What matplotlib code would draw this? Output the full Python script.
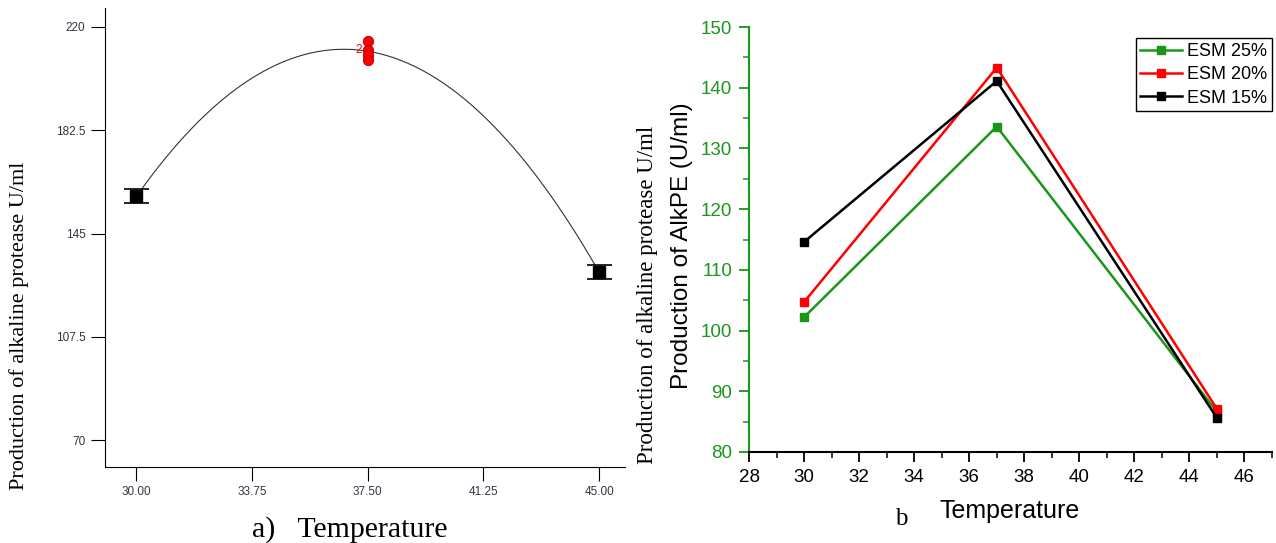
import matplotlib
matplotlib.use("Agg")
import matplotlib.pyplot as plt
import numpy as np
from matplotlib.ticker import MultipleLocator

# panel a: response surface model (design points)
temp_design = [30.0, 37.5, 45.0]
mean_design = [158.5, 211.2, 131.0]
err_design = [2.5, 2.5]
center_x = [37.5, 37.5, 37.5, 37.5]
center_y = [215.0, 211.6, 210.0, 208.0]
a_xticks = [30.00, 33.75, 37.50, 41.25, 45.00]
a_yticks = [70, 107.5, 145, 182.5, 220]

# panel b: AlkPE production for each ESM level
temp_b = [30, 37, 45]
esm25 = [102.2, 133.6, 86.6]
esm20 = [104.7, 143.3, 87.1]
esm15 = [114.6, 141.1, 85.6]

W, H = 1276, 543
fig = plt.figure(figsize=(W / 100, H / 100), dpi=100)
serif = ["Liberation Serif", "DejaVu Serif"]
narrow = ["Liberation Sans Narrow", "Liberation Sans", "DejaVu Sans"]
arial = ["Liberation Sans", "DejaVu Sans"]

# ---- panel a ----
ax1 = fig.add_axes([105 / W, 1 - 467 / H, 520 / W, 459 / H])
coef = np.polyfit(temp_design, mean_design, 2)
xs = np.linspace(30, 45, 200)
ax1.plot(xs, np.polyval(coef, xs), color="#333333", lw=0.8, zorder=2)
ax1.errorbar([temp_design[0], temp_design[2]], [mean_design[0], mean_design[2]],
             yerr=err_design, fmt="s", color="black", ms=8, capsize=9,
             elinewidth=1, capthick=1.2, zorder=3)
ax1.plot(center_x, center_y, "o", color="#ff0000", mec="#aa0000", mew=0.6,
         ms=7.5, zorder=4)
ax1.text(37.3, center_y[1], "2", color="#ff0000", fontsize=8.5, ha="right",
         va="center", family=arial)
ax1.set_xlim(28.98, 45.84)
ax1.set_ylim(60.2, 226.9)
ax1.set_xticks(a_xticks)
ax1.set_xticklabels(["%.2f" % v for v in a_xticks])
ax1.set_yticks(a_yticks)
ax1.set_yticklabels(["%g" % v for v in a_yticks])
ax1.tick_params(direction="out", length=10, width=0.8, labelsize=8.5,
                labelcolor="#333344", pad=4)
for lab in ax1.get_xticklabels() + ax1.get_yticklabels():
    lab.set_family(narrow)
for s in ["top", "right"]:
    ax1.spines[s].set_visible(False)
for s in ["left", "bottom"]:
    ax1.spines[s].set_linewidth(0.8)

fig.text(19 / W, 1 - 326 / H, "Production of alkaline protease U/ml",
         rotation=90, ha="center", va="center", fontsize=16, family=serif)
fig.text(350 / W, 1 - 537 / H, "a)   Temperature", ha="center", va="baseline",
         fontsize=21.5, family=serif)

# ---- panel b ----
green = "#1a961a"
ax2 = fig.add_axes([749 / W, 1 - 452 / H, 523 / W, 425 / H])
ax2.plot(temp_b, esm25, "-s", color=green, lw=1.8, ms=5.5, label="ESM 25%")
ax2.plot(temp_b, esm20, "-s", color="#ff0000", lw=1.8, ms=5.5, label="ESM 20%")
ax2.plot(temp_b, esm15, "-s", color="black", lw=1.8, ms=5.5, label="ESM 15%")
ax2.set_xlim(28, 47)
ax2.set_ylim(80, 150)
ax2.xaxis.set_major_locator(MultipleLocator(2))
ax2.xaxis.set_minor_locator(MultipleLocator(1))
ax2.yaxis.set_major_locator(MultipleLocator(10))
ax2.yaxis.set_minor_locator(MultipleLocator(5))
ax2.tick_params(which="major", direction="out", length=7, width=1.3,
                labelsize=13.5, pad=5)
ax2.tick_params(which="minor", direction="out", length=4, width=1.1)
ax2.tick_params(axis="y", which="both", color=green, labelcolor=green)
for lab in ax2.get_xticklabels() + ax2.get_yticklabels():
    lab.set_family(arial)
for s in ["top", "right"]:
    ax2.spines[s].set_visible(False)
ax2.spines["left"].set_color(green)
ax2.spines["left"].set_linewidth(1.5)
ax2.spines["bottom"].set_linewidth(1.5)
leg = ax2.legend(loc="upper right", bbox_to_anchor=(1.0, 0.973),
                 borderaxespad=0, fancybox=False, edgecolor="black",
                 framealpha=1, prop={"family": arial, "size": 13},
                 handlelength=2.3, handletextpad=0.3, labelspacing=0.35,
                 borderpad=0.25)
leg.get_frame().set_linewidth(1.0)

fig.text(682 / W, 1 - 246 / H, "Production of AlkPE (U/ml)", rotation=90,
         ha="center", va="center", fontsize=17.5, family=arial)
fig.text(647 / W, 1 - 295 / H, "Production of alkaline protease U/ml",
         rotation=90, ha="center", va="center", fontsize=16.5, family=serif)
fig.text(1010 / W, 1 - 518 / H, "Temperature", ha="center", va="baseline",
         fontsize=18, family=arial)
fig.text(901 / W, 1 - 525 / H, "b", ha="center", va="baseline",
         fontsize=18, family=serif)

fig.savefig("out.png", dpi=100)
